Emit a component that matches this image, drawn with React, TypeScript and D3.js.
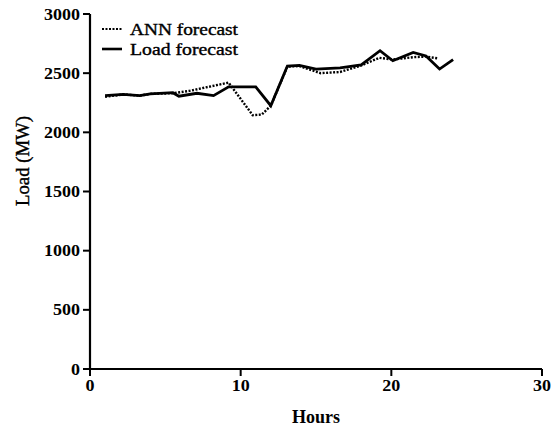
import React from "react";
import * as d3 from "d3";

const loadHours = [1.0, 2.2, 3.3, 4.0, 5.5, 5.9, 7.1, 8.2, 9.2, 11.0, 12.0, 13.1, 13.9, 15.0, 16.6, 18.0, 19.25, 20.1, 21.45, 22.3, 23.2, 24.1];
const loadValues = [2310, 2320, 2310, 2325, 2335, 2305, 2330, 2310, 2385, 2385, 2225, 2560, 2565, 2535, 2545, 2570, 2690, 2605, 2675, 2645, 2535, 2615];

const annHours = [1.0, 2.2, 3.3, 4.0, 5.5, 6.6, 7.7, 9.2, 10.8, 11.4, 11.8, 12.0, 13.1, 13.9, 15.3, 16.6, 18.0, 19.2, 20.1, 21.45, 22.3, 23.1];
const annValues = [2300, 2320, 2310, 2325, 2330, 2350, 2380, 2420, 2145, 2150, 2200, 2225, 2555, 2560, 2500, 2510, 2565, 2630, 2615, 2635, 2640, 2625];

const xTicks = [0, 10, 20, 30];
const yTicks = [0, 500, 1000, 1500, 2000, 2500, 3000];

const seriesNames = ["ANN forecast", "Load forecast"];

export default function App() {
  const W = 557, H = 431;
  const x = d3.scaleLinear().domain([0, 30]).range([90, 542]);
  const y = d3.scaleLinear().domain([0, 3000]).range([369, 14]);
  const line = d3.line<[number, number]>().x(d => x(d[0])).y(d => y(d[1]));
  const loadPts: [number, number][] = loadHours.map((h, i) => [h, loadValues[i]]);
  const annPts: [number, number][] = annHours.map((h, i) => [h, annValues[i]]);
  const font = "Liberation Serif";
  return (
    <svg width={W} height={H} style={{ position: "absolute", left: 0, top: 0, background: "#fff" }}>
      <rect width={W} height={H} fill="#fff" />
      <line x1={x(0)} x2={x(0)} y1={y(3000)} y2={y(0)} stroke="#000" strokeWidth={2.2} />
      <line x1={x(0)} x2={x(30)} y1={y(0)} y2={y(0)} stroke="#000" strokeWidth={2.2} />
      {yTicks.map(t => (
        <g key={"y" + t}>
          <line x1={x(0) - 7} x2={x(0)} y1={y(t)} y2={y(t)} stroke="#000" strokeWidth={2} />
          <text x={x(0) - 10} y={y(t) + 5.5} textAnchor="end" fontFamily={font} fontWeight="bold" fontSize={16}
            textLength={String(t).length * 9} lengthAdjust="spacingAndGlyphs">{t}</text>
        </g>
      ))}
      {xTicks.map(t => (
        <g key={"x" + t}>
          <line x1={x(t)} x2={x(t)} y1={y(0)} y2={y(0) + 7} stroke="#000" strokeWidth={2} />
          <text x={x(t)} y={391} textAnchor="middle" fontFamily={font} fontWeight="bold" fontSize={16}
            textLength={String(t).length * 9} lengthAdjust="spacingAndGlyphs">{t}</text>
        </g>
      ))}
      <text x={316} y={423} textAnchor="middle" fontFamily={font} fontWeight="bold" fontSize={18}>Hours</text>
      <text transform="translate(29,161) rotate(-90)" textAnchor="middle" fontFamily={font} fontSize={18}
        stroke="#000" strokeWidth={0.4} textLength={90} lengthAdjust="spacingAndGlyphs">Load (MW)</text>
      <path d={line(annPts) || ""} fill="none" stroke="#000" strokeWidth={2.4} strokeDasharray="2,1.5" />
      <path d={line(loadPts) || ""} fill="none" stroke="#000" strokeWidth={2.8} strokeLinejoin="miter" />
      <line x1={102} x2={122} y1={29} y2={29} stroke="#000" strokeWidth={2.2} strokeDasharray="2,1.5" />
      <text x={130} y={35} fontFamily={font} fontSize={17} stroke="#000" strokeWidth={0.4}
        textLength={108} lengthAdjust="spacingAndGlyphs">{seriesNames[0]}</text>
      <line x1={102} x2={122} y1={49} y2={49} stroke="#000" strokeWidth={2.6} />
      <text x={130} y={55} fontFamily={font} fontSize={17} stroke="#000" strokeWidth={0.4}
        textLength={108} lengthAdjust="spacingAndGlyphs">{seriesNames[1]}</text>
    </svg>
  );
}
